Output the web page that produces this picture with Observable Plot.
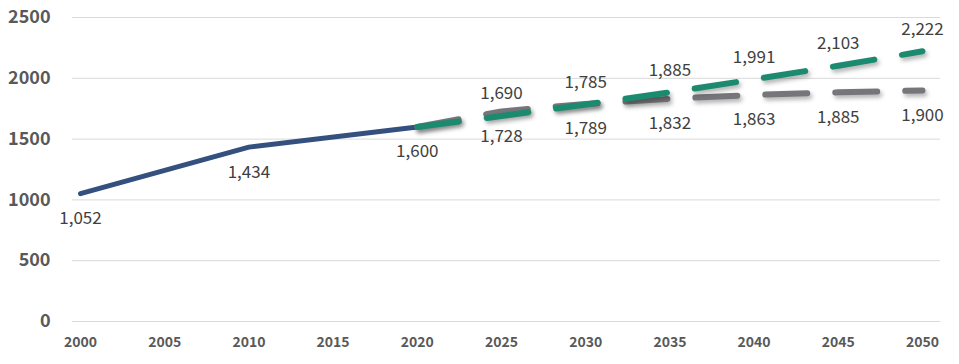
<!DOCTYPE html>
<html><head><meta charset="utf-8">
<script src="https://cdn.jsdelivr.net/npm/d3@7"></script>
<script src="https://cdn.jsdelivr.net/npm/@observablehq/plot@0.6"></script>
<style>
body{margin:0;background:#fff;}
#chart svg{font-family:"Noto Sans CJK KR","Noto Sans",sans-serif;}
</style>
</head><body><div id="chart"></div>
<script>
const actualYears = [2000, 2010, 2020];
const actualValues = [1052, 1434, 1600];
const projYears = [2020, 2025, 2030, 2035, 2040, 2045, 2050];
const greenValues = [1600, 1690, 1785, 1885, 1991, 2103, 2222];
const grayValues = [1600, 1728, 1789, 1832, 1863, 1885, 1900];
const xTicks = [2000, 2005, 2010, 2015, 2020, 2025, 2030, 2035, 2040, 2045, 2050];
const yTicks = [0, 500, 1000, 1500, 2000, 2500];

const actual = actualYears.map((x, i) => ({x, y: actualValues[i]}));
const green = projYears.map((x, i) => ({x, y: greenValues[i]}));
const gray = projYears.map((x, i) => ({x, y: grayValues[i]}));
const fmt = d3.format(",");
const GREEN = "#1b8a6f", GRAY = "#75757a";

const chart = Plot.plot({
  width: 959, height: 364,
  marginLeft: 80, marginRight: 37, marginTop: 17, marginBottom: 43,
  x: {domain: [2000, 2050]},
  y: {domain: [0, 2500]},
  marks: [
    Plot.ruleY(yTicks, {stroke: "#d9d9d9", strokeWidth: 1, insetLeft: -8, insetRight: -18}),
    Plot.axisY(yTicks, {tickSize: 0, tickPadding: 30, tickFormat: d => String(d), label: null,
      fontSize: 18, fontWeight: "bold", color: "#595959"}),
    Plot.axisX(xTicks, {tickSize: 0, tickPadding: 16, tickFormat: d => String(d), label: null,
      fontSize: 14, fontWeight: "bold", color: "#595959"}),
    Plot.line(actual, {x: "x", y: "y", stroke: "#34507f", strokeWidth: 5, strokeLinecap: "round"}),
    Plot.line(gray, {x: "x", y: "y", stroke: GRAY, strokeWidth: 6, strokeLinecap: "round",
      strokeDasharray: "42,28"}),
    Plot.line(green, {x: "x", y: "y", stroke: GREEN, strokeWidth: 6, strokeLinecap: "round",
      strokeDasharray: "42,28"}),
    Plot.text(actual, {x: "x", y: "y", text: d => fmt(d.y), dy: 25, fontSize: 17, fill: "#404040"}),
    Plot.text(green.slice(1), {x: "x", y: "y", text: d => fmt(d.y), dy: -22, fontSize: 17, fill: "#404040"}),
    Plot.text(gray.slice(1), {x: "x", y: "y", text: d => fmt(d.y), dy: 25, fontSize: 17, fill: "#404040"})
  ]
});
d3.select(chart).selectAll(`[stroke="${GREEN}"], [stroke="${GRAY}"]`)
  .style("filter", "drop-shadow(2px 3px 2px rgba(0,0,0,0.3))");
document.getElementById("chart").appendChild(chart);
</script>
</body></html>
